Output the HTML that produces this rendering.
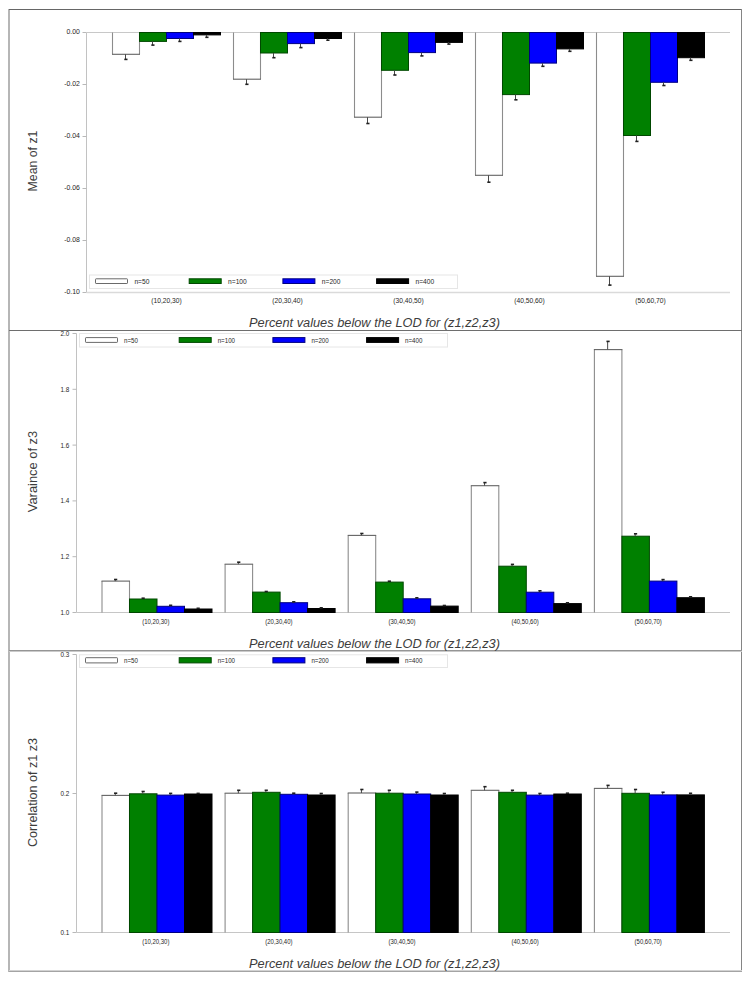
<!DOCTYPE html>
<html><head><meta charset="utf-8"><style>
html,body{margin:0;padding:0;background:#fff;width:754px;height:981px;overflow:hidden}
svg{display:block;font-family:"Liberation Sans", sans-serif}
</style></head><body>
<svg width="754" height="981" viewBox="0 0 754 981">
<rect width="754" height="981" fill="#fff"/>
<rect x="8" y="9" width="2" height="963" fill="#b6b6b6"/>
<rect x="9" y="9" width="733" height="1" fill="#666666"/>
<rect x="741" y="9" width="1" height="963" fill="#858585"/>
<rect x="9" y="970" width="733" height="1" fill="#d2d2d2"/>
<rect x="9" y="971" width="733" height="1" fill="#a4a4a4"/>
<rect x="9" y="330" width="733" height="1" fill="#6e6e6e"/>
<rect x="9" y="650" width="733" height="1" fill="#959595"/>
<rect x="9" y="651" width="733" height="1" fill="#cacaca"/>
<line x1="86.5" y1="32.5" x2="86.5" y2="292.5" stroke="#c2c2c2" stroke-width="1"/>
<line x1="82.5" y1="32.50" x2="86.5" y2="32.50" stroke="#b8b8b8" stroke-width="1"/>
<text x="79.9" y="33.68" font-size="6.9" text-anchor="end" fill="#1e1e1e" textLength="13.43" lengthAdjust="spacingAndGlyphs">0.00</text>
<line x1="82.5" y1="84.50" x2="86.5" y2="84.50" stroke="#b8b8b8" stroke-width="1"/>
<text x="79.9" y="85.68" font-size="6.9" text-anchor="end" fill="#1e1e1e" textLength="15.73" lengthAdjust="spacingAndGlyphs">-0.02</text>
<line x1="82.5" y1="136.50" x2="86.5" y2="136.50" stroke="#b8b8b8" stroke-width="1"/>
<text x="79.9" y="137.68" font-size="6.9" text-anchor="end" fill="#1e1e1e" textLength="15.73" lengthAdjust="spacingAndGlyphs">-0.04</text>
<line x1="82.5" y1="188.50" x2="86.5" y2="188.50" stroke="#b8b8b8" stroke-width="1"/>
<text x="79.9" y="189.68" font-size="6.9" text-anchor="end" fill="#1e1e1e" textLength="15.73" lengthAdjust="spacingAndGlyphs">-0.06</text>
<line x1="82.5" y1="240.50" x2="86.5" y2="240.50" stroke="#b8b8b8" stroke-width="1"/>
<text x="79.9" y="241.68" font-size="6.9" text-anchor="end" fill="#1e1e1e" textLength="15.73" lengthAdjust="spacingAndGlyphs">-0.08</text>
<line x1="82.5" y1="292.50" x2="86.5" y2="292.50" stroke="#b8b8b8" stroke-width="1"/>
<text x="79.9" y="293.68" font-size="6.9" text-anchor="end" fill="#1e1e1e" textLength="15.73" lengthAdjust="spacingAndGlyphs">-0.10</text>
<line x1="86.5" y1="32.5" x2="730" y2="32.5" stroke="#c8c8c8" stroke-width="1"/>
<line x1="86.5" y1="292.5" x2="730" y2="292.5" stroke="#dadada" stroke-width="1.6"/>
<rect x="112.50" y="33.00" width="27.00" height="21.30" fill="#fff"/>
<line x1="112.50" y1="32.50" x2="112.50" y2="54.30" stroke="#8c8c8c" stroke-width="1.1"/>
<line x1="139.50" y1="32.50" x2="139.50" y2="54.30" stroke="#8c8c8c" stroke-width="1.1"/>
<line x1="112.00" y1="54.30" x2="140.00" y2="54.30" stroke="#626262" stroke-width="1.1"/>
<line x1="125.50" y1="54.30" x2="125.50" y2="59.40" stroke="#484848" stroke-width="1"/>
<rect x="124.30" y="58.60" width="3.2" height="1.6" fill="#202020"/>
<rect x="139.50" y="32.50" width="27.00" height="8.90" fill="#008000" stroke="#004800" stroke-width="1"/>
<line x1="152.50" y1="41.40" x2="152.50" y2="45.10" stroke="#484848" stroke-width="1"/>
<rect x="151.30" y="44.30" width="3.2" height="1.6" fill="#202020"/>
<rect x="166.50" y="32.50" width="27.00" height="6.00" fill="#0000ff" stroke="#000080" stroke-width="1"/>
<line x1="179.50" y1="38.50" x2="179.50" y2="41.40" stroke="#484848" stroke-width="1"/>
<rect x="178.30" y="40.60" width="3.2" height="1.6" fill="#202020"/>
<rect x="193.50" y="32.50" width="27.00" height="2.40" fill="#000000" stroke="#000000" stroke-width="1"/>
<line x1="206.50" y1="34.90" x2="206.50" y2="37.30" stroke="#484848" stroke-width="1"/>
<rect x="205.30" y="36.50" width="3.2" height="1.6" fill="#202020"/>
<text x="166.50" y="303.3" font-size="6.9" text-anchor="middle" fill="#1e1e1e" textLength="30.5" lengthAdjust="spacingAndGlyphs">(10,20,30)</text>
<rect x="233.50" y="33.00" width="27.00" height="46.20" fill="#fff"/>
<line x1="233.50" y1="32.50" x2="233.50" y2="79.20" stroke="#8c8c8c" stroke-width="1.1"/>
<line x1="260.50" y1="32.50" x2="260.50" y2="79.20" stroke="#8c8c8c" stroke-width="1.1"/>
<line x1="233.00" y1="79.20" x2="261.00" y2="79.20" stroke="#626262" stroke-width="1.1"/>
<line x1="246.50" y1="79.20" x2="246.50" y2="84.30" stroke="#484848" stroke-width="1"/>
<rect x="245.30" y="83.50" width="3.2" height="1.6" fill="#202020"/>
<rect x="260.50" y="32.50" width="27.00" height="20.50" fill="#008000" stroke="#004800" stroke-width="1"/>
<line x1="273.50" y1="53.00" x2="273.50" y2="57.70" stroke="#484848" stroke-width="1"/>
<rect x="272.30" y="56.90" width="3.2" height="1.6" fill="#202020"/>
<rect x="287.50" y="32.50" width="27.00" height="11.10" fill="#0000ff" stroke="#000080" stroke-width="1"/>
<line x1="300.50" y1="43.60" x2="300.50" y2="47.60" stroke="#484848" stroke-width="1"/>
<rect x="299.30" y="46.80" width="3.2" height="1.6" fill="#202020"/>
<rect x="314.50" y="32.50" width="27.00" height="6.00" fill="#000000" stroke="#000000" stroke-width="1"/>
<line x1="327.50" y1="38.50" x2="327.50" y2="40.20" stroke="#484848" stroke-width="1"/>
<rect x="326.30" y="39.40" width="3.2" height="1.6" fill="#202020"/>
<text x="287.50" y="303.3" font-size="6.9" text-anchor="middle" fill="#1e1e1e" textLength="30.5" lengthAdjust="spacingAndGlyphs">(20,30,40)</text>
<rect x="354.50" y="33.00" width="27.00" height="84.20" fill="#fff"/>
<line x1="354.50" y1="32.50" x2="354.50" y2="117.20" stroke="#8c8c8c" stroke-width="1.1"/>
<line x1="381.50" y1="32.50" x2="381.50" y2="117.20" stroke="#8c8c8c" stroke-width="1.1"/>
<line x1="354.00" y1="117.20" x2="382.00" y2="117.20" stroke="#626262" stroke-width="1.1"/>
<line x1="367.50" y1="117.20" x2="367.50" y2="123.50" stroke="#484848" stroke-width="1"/>
<rect x="366.30" y="122.70" width="3.2" height="1.6" fill="#202020"/>
<rect x="381.50" y="32.50" width="27.00" height="37.80" fill="#008000" stroke="#004800" stroke-width="1"/>
<line x1="394.50" y1="70.30" x2="394.50" y2="75.00" stroke="#484848" stroke-width="1"/>
<rect x="393.30" y="74.20" width="3.2" height="1.6" fill="#202020"/>
<rect x="408.50" y="32.50" width="27.00" height="20.10" fill="#0000ff" stroke="#000080" stroke-width="1"/>
<line x1="421.50" y1="52.60" x2="421.50" y2="55.90" stroke="#484848" stroke-width="1"/>
<rect x="420.30" y="55.10" width="3.2" height="1.6" fill="#202020"/>
<rect x="435.50" y="32.50" width="27.00" height="9.90" fill="#000000" stroke="#000000" stroke-width="1"/>
<line x1="448.50" y1="42.40" x2="448.50" y2="44.10" stroke="#484848" stroke-width="1"/>
<rect x="447.30" y="43.30" width="3.2" height="1.6" fill="#202020"/>
<text x="408.50" y="303.3" font-size="6.9" text-anchor="middle" fill="#1e1e1e" textLength="30.5" lengthAdjust="spacingAndGlyphs">(30,40,50)</text>
<rect x="475.50" y="33.00" width="27.00" height="142.30" fill="#fff"/>
<line x1="475.50" y1="32.50" x2="475.50" y2="175.30" stroke="#8c8c8c" stroke-width="1.1"/>
<line x1="502.50" y1="32.50" x2="502.50" y2="175.30" stroke="#8c8c8c" stroke-width="1.1"/>
<line x1="475.00" y1="175.30" x2="503.00" y2="175.30" stroke="#626262" stroke-width="1.1"/>
<line x1="488.50" y1="175.30" x2="488.50" y2="182.20" stroke="#484848" stroke-width="1"/>
<rect x="487.30" y="181.40" width="3.2" height="1.6" fill="#202020"/>
<rect x="502.50" y="32.50" width="27.00" height="62.10" fill="#008000" stroke="#004800" stroke-width="1"/>
<line x1="515.50" y1="94.60" x2="515.50" y2="99.80" stroke="#484848" stroke-width="1"/>
<rect x="514.30" y="99.00" width="3.2" height="1.6" fill="#202020"/>
<rect x="529.50" y="32.50" width="27.00" height="30.60" fill="#0000ff" stroke="#000080" stroke-width="1"/>
<line x1="542.50" y1="63.10" x2="542.50" y2="66.30" stroke="#484848" stroke-width="1"/>
<rect x="541.30" y="65.50" width="3.2" height="1.6" fill="#202020"/>
<rect x="556.50" y="32.50" width="27.00" height="16.40" fill="#000000" stroke="#000000" stroke-width="1"/>
<line x1="569.50" y1="48.90" x2="569.50" y2="51.30" stroke="#484848" stroke-width="1"/>
<rect x="568.30" y="50.50" width="3.2" height="1.6" fill="#202020"/>
<text x="529.50" y="303.3" font-size="6.9" text-anchor="middle" fill="#1e1e1e" textLength="30.5" lengthAdjust="spacingAndGlyphs">(40,50,60)</text>
<rect x="596.50" y="33.00" width="27.00" height="243.30" fill="#fff"/>
<line x1="596.50" y1="32.50" x2="596.50" y2="276.30" stroke="#8c8c8c" stroke-width="1.1"/>
<line x1="623.50" y1="32.50" x2="623.50" y2="276.30" stroke="#8c8c8c" stroke-width="1.1"/>
<line x1="596.00" y1="276.30" x2="624.00" y2="276.30" stroke="#626262" stroke-width="1.1"/>
<line x1="609.50" y1="276.30" x2="609.50" y2="285.10" stroke="#484848" stroke-width="1"/>
<rect x="608.30" y="284.30" width="3.2" height="1.6" fill="#202020"/>
<rect x="623.50" y="32.50" width="27.00" height="103.00" fill="#008000" stroke="#004800" stroke-width="1"/>
<line x1="636.50" y1="135.50" x2="636.50" y2="141.40" stroke="#484848" stroke-width="1"/>
<rect x="635.30" y="140.60" width="3.2" height="1.6" fill="#202020"/>
<rect x="650.50" y="32.50" width="27.00" height="49.80" fill="#0000ff" stroke="#000080" stroke-width="1"/>
<line x1="663.50" y1="82.30" x2="663.50" y2="85.50" stroke="#484848" stroke-width="1"/>
<rect x="662.30" y="84.70" width="3.2" height="1.6" fill="#202020"/>
<rect x="677.50" y="32.50" width="27.00" height="25.20" fill="#000000" stroke="#000000" stroke-width="1"/>
<line x1="690.50" y1="57.70" x2="690.50" y2="60.30" stroke="#484848" stroke-width="1"/>
<rect x="689.30" y="59.50" width="3.2" height="1.6" fill="#202020"/>
<text x="650.50" y="303.3" font-size="6.9" text-anchor="middle" fill="#1e1e1e" textLength="30.5" lengthAdjust="spacingAndGlyphs">(50,60,70)</text>
<rect x="89.5" y="275" width="368" height="13.50" fill="none" stroke="#e6e6e6" stroke-width="1"/>
<rect x="95.50" y="278.80" width="32" height="4.7" fill="#ffffff" stroke="#6a6a6a" stroke-width="1" rx="0.6"/>
<text x="134.40" y="283.70" font-size="7" text-anchor="start" fill="#1e1e1e" textLength="14.98" lengthAdjust="spacingAndGlyphs">n=50</text>
<rect x="189.20" y="278.80" width="32" height="4.7" fill="#008000" stroke="#004800" stroke-width="1" rx="0"/>
<text x="228.10" y="283.70" font-size="7" text-anchor="start" fill="#1e1e1e" textLength="18.68" lengthAdjust="spacingAndGlyphs">n=100</text>
<rect x="282.90" y="278.80" width="32" height="4.7" fill="#0000ff" stroke="#000080" stroke-width="1" rx="0"/>
<text x="321.80" y="283.70" font-size="7" text-anchor="start" fill="#1e1e1e" textLength="18.68" lengthAdjust="spacingAndGlyphs">n=200</text>
<rect x="376.60" y="278.80" width="32" height="4.7" fill="#000000" stroke="#000000" stroke-width="1" rx="0"/>
<text x="415.50" y="283.70" font-size="7" text-anchor="start" fill="#1e1e1e" textLength="18.68" lengthAdjust="spacingAndGlyphs">n=400</text>
<text x="0" y="0" font-size="12.3" fill="#3c3c3c" text-anchor="middle" transform="translate(37,161) rotate(-90)">Mean of z1</text>
<text x="249" y="327.2" font-size="12.3" fill="#3c3c3c" font-style="italic" textLength="251" lengthAdjust="spacingAndGlyphs">Percent values below the LOD for (z1,z2,z3)</text>
<line x1="76.5" y1="333.5" x2="76.5" y2="612.5" stroke="#c2c2c2" stroke-width="1"/>
<line x1="72.5" y1="612.50" x2="76.5" y2="612.50" stroke="#b8b8b8" stroke-width="1"/>
<text x="69.3" y="615.09" font-size="7.2" text-anchor="end" fill="#1e1e1e" textLength="8.81" lengthAdjust="spacingAndGlyphs">1.0</text>
<line x1="72.5" y1="556.70" x2="76.5" y2="556.70" stroke="#b8b8b8" stroke-width="1"/>
<text x="69.3" y="559.29" font-size="7.2" text-anchor="end" fill="#1e1e1e" textLength="8.81" lengthAdjust="spacingAndGlyphs">1.2</text>
<line x1="72.5" y1="500.90" x2="76.5" y2="500.90" stroke="#b8b8b8" stroke-width="1"/>
<text x="69.3" y="503.49" font-size="7.2" text-anchor="end" fill="#1e1e1e" textLength="8.81" lengthAdjust="spacingAndGlyphs">1.4</text>
<line x1="72.5" y1="445.10" x2="76.5" y2="445.10" stroke="#b8b8b8" stroke-width="1"/>
<text x="69.3" y="447.69" font-size="7.2" text-anchor="end" fill="#1e1e1e" textLength="8.81" lengthAdjust="spacingAndGlyphs">1.6</text>
<line x1="72.5" y1="389.30" x2="76.5" y2="389.30" stroke="#b8b8b8" stroke-width="1"/>
<text x="69.3" y="391.89" font-size="7.2" text-anchor="end" fill="#1e1e1e" textLength="8.81" lengthAdjust="spacingAndGlyphs">1.8</text>
<line x1="72.5" y1="333.50" x2="76.5" y2="333.50" stroke="#b8b8b8" stroke-width="1"/>
<text x="69.3" y="336.09" font-size="7.2" text-anchor="end" fill="#1e1e1e" textLength="8.81" lengthAdjust="spacingAndGlyphs">2.0</text>
<line x1="76.5" y1="612.5" x2="730" y2="612.5" stroke="#c6c6c6" stroke-width="1"/>
<rect x="102.00" y="581.10" width="27.50" height="30.90" fill="#fff"/>
<line x1="102.00" y1="612.50" x2="102.00" y2="581.10" stroke="#8c8c8c" stroke-width="1.1"/>
<line x1="129.50" y1="612.50" x2="129.50" y2="581.10" stroke="#8c8c8c" stroke-width="1.1"/>
<line x1="101.50" y1="581.10" x2="130.00" y2="581.10" stroke="#626262" stroke-width="1.1"/>
<line x1="115.25" y1="581.10" x2="115.25" y2="579.50" stroke="#484848" stroke-width="1"/>
<rect x="114.05" y="578.70" width="3.2" height="1.6" fill="#202020"/>
<rect x="129.50" y="599.00" width="27.50" height="13.50" fill="#008000" stroke="#004800" stroke-width="1"/>
<line x1="142.75" y1="599.00" x2="142.75" y2="598.20" stroke="#484848" stroke-width="1"/>
<rect x="141.55" y="597.40" width="3.2" height="1.6" fill="#202020"/>
<rect x="157.00" y="606.30" width="27.50" height="6.20" fill="#0000ff" stroke="#000080" stroke-width="1"/>
<line x1="170.25" y1="606.30" x2="170.25" y2="605.30" stroke="#484848" stroke-width="1"/>
<rect x="169.05" y="604.50" width="3.2" height="1.6" fill="#202020"/>
<rect x="184.50" y="609.00" width="27.50" height="3.50" fill="#000000" stroke="#000000" stroke-width="1"/>
<line x1="197.75" y1="609.00" x2="197.75" y2="608.30" stroke="#484848" stroke-width="1"/>
<rect x="196.55" y="607.50" width="3.2" height="1.6" fill="#202020"/>
<text x="155.80" y="624.4" font-size="7.0" text-anchor="middle" fill="#1e1e1e" textLength="27.2" lengthAdjust="spacingAndGlyphs">(10,20,30)</text>
<rect x="225.10" y="564.20" width="27.50" height="47.80" fill="#fff"/>
<line x1="225.10" y1="612.50" x2="225.10" y2="564.20" stroke="#8c8c8c" stroke-width="1.1"/>
<line x1="252.60" y1="612.50" x2="252.60" y2="564.20" stroke="#8c8c8c" stroke-width="1.1"/>
<line x1="224.60" y1="564.20" x2="253.10" y2="564.20" stroke="#626262" stroke-width="1.1"/>
<line x1="238.35" y1="564.20" x2="238.35" y2="562.20" stroke="#484848" stroke-width="1"/>
<rect x="237.15" y="561.40" width="3.2" height="1.6" fill="#202020"/>
<rect x="252.60" y="592.10" width="27.50" height="20.40" fill="#008000" stroke="#004800" stroke-width="1"/>
<line x1="265.85" y1="592.10" x2="265.85" y2="591.50" stroke="#484848" stroke-width="1"/>
<rect x="264.65" y="590.70" width="3.2" height="1.6" fill="#202020"/>
<rect x="280.10" y="602.70" width="27.50" height="9.80" fill="#0000ff" stroke="#000080" stroke-width="1"/>
<line x1="293.35" y1="602.70" x2="293.35" y2="601.80" stroke="#484848" stroke-width="1"/>
<rect x="292.15" y="601.00" width="3.2" height="1.6" fill="#202020"/>
<rect x="307.60" y="608.50" width="27.50" height="4.00" fill="#000000" stroke="#000000" stroke-width="1"/>
<line x1="320.85" y1="608.50" x2="320.85" y2="607.80" stroke="#484848" stroke-width="1"/>
<rect x="319.65" y="607.00" width="3.2" height="1.6" fill="#202020"/>
<text x="278.90" y="624.4" font-size="7.0" text-anchor="middle" fill="#1e1e1e" textLength="27.2" lengthAdjust="spacingAndGlyphs">(20,30,40)</text>
<rect x="348.20" y="535.40" width="27.50" height="76.60" fill="#fff"/>
<line x1="348.20" y1="612.50" x2="348.20" y2="535.40" stroke="#8c8c8c" stroke-width="1.1"/>
<line x1="375.70" y1="612.50" x2="375.70" y2="535.40" stroke="#8c8c8c" stroke-width="1.1"/>
<line x1="347.70" y1="535.40" x2="376.20" y2="535.40" stroke="#626262" stroke-width="1.1"/>
<line x1="361.45" y1="535.40" x2="361.45" y2="533.50" stroke="#484848" stroke-width="1"/>
<rect x="360.25" y="532.70" width="3.2" height="1.6" fill="#202020"/>
<rect x="375.70" y="582.10" width="27.50" height="30.40" fill="#008000" stroke="#004800" stroke-width="1"/>
<line x1="388.95" y1="582.10" x2="388.95" y2="581.20" stroke="#484848" stroke-width="1"/>
<rect x="387.75" y="580.40" width="3.2" height="1.6" fill="#202020"/>
<rect x="403.20" y="598.80" width="27.50" height="13.70" fill="#0000ff" stroke="#000080" stroke-width="1"/>
<line x1="416.45" y1="598.80" x2="416.45" y2="597.80" stroke="#484848" stroke-width="1"/>
<rect x="415.25" y="597.00" width="3.2" height="1.6" fill="#202020"/>
<rect x="430.70" y="606.10" width="27.50" height="6.40" fill="#000000" stroke="#000000" stroke-width="1"/>
<line x1="443.95" y1="606.10" x2="443.95" y2="605.50" stroke="#484848" stroke-width="1"/>
<rect x="442.75" y="604.70" width="3.2" height="1.6" fill="#202020"/>
<text x="402.00" y="624.4" font-size="7.0" text-anchor="middle" fill="#1e1e1e" textLength="27.2" lengthAdjust="spacingAndGlyphs">(30,40,50)</text>
<rect x="471.30" y="485.70" width="27.50" height="126.30" fill="#fff"/>
<line x1="471.30" y1="612.50" x2="471.30" y2="485.70" stroke="#8c8c8c" stroke-width="1.1"/>
<line x1="498.80" y1="612.50" x2="498.80" y2="485.70" stroke="#8c8c8c" stroke-width="1.1"/>
<line x1="470.80" y1="485.70" x2="499.30" y2="485.70" stroke="#626262" stroke-width="1.1"/>
<line x1="484.55" y1="485.70" x2="484.55" y2="482.60" stroke="#484848" stroke-width="1"/>
<rect x="483.35" y="481.80" width="3.2" height="1.6" fill="#202020"/>
<rect x="498.80" y="566.20" width="27.50" height="46.30" fill="#008000" stroke="#004800" stroke-width="1"/>
<line x1="512.05" y1="566.20" x2="512.05" y2="564.40" stroke="#484848" stroke-width="1"/>
<rect x="510.85" y="563.60" width="3.2" height="1.6" fill="#202020"/>
<rect x="526.30" y="592.20" width="27.50" height="20.30" fill="#0000ff" stroke="#000080" stroke-width="1"/>
<line x1="539.55" y1="592.20" x2="539.55" y2="590.80" stroke="#484848" stroke-width="1"/>
<rect x="538.35" y="590.00" width="3.2" height="1.6" fill="#202020"/>
<rect x="553.80" y="603.60" width="27.50" height="8.90" fill="#000000" stroke="#000000" stroke-width="1"/>
<line x1="567.05" y1="603.60" x2="567.05" y2="602.80" stroke="#484848" stroke-width="1"/>
<rect x="565.85" y="602.00" width="3.2" height="1.6" fill="#202020"/>
<text x="525.10" y="624.4" font-size="7.0" text-anchor="middle" fill="#1e1e1e" textLength="27.2" lengthAdjust="spacingAndGlyphs">(40,50,60)</text>
<rect x="594.40" y="349.60" width="27.50" height="262.40" fill="#fff"/>
<line x1="594.40" y1="612.50" x2="594.40" y2="349.60" stroke="#8c8c8c" stroke-width="1.1"/>
<line x1="621.90" y1="612.50" x2="621.90" y2="349.60" stroke="#8c8c8c" stroke-width="1.1"/>
<line x1="593.90" y1="349.60" x2="622.40" y2="349.60" stroke="#626262" stroke-width="1.1"/>
<line x1="607.65" y1="349.60" x2="607.65" y2="341.40" stroke="#484848" stroke-width="1"/>
<rect x="606.45" y="340.60" width="3.2" height="1.6" fill="#202020"/>
<rect x="621.90" y="536.20" width="27.50" height="76.30" fill="#008000" stroke="#004800" stroke-width="1"/>
<line x1="635.15" y1="536.20" x2="635.15" y2="533.80" stroke="#484848" stroke-width="1"/>
<rect x="633.95" y="533.00" width="3.2" height="1.6" fill="#202020"/>
<rect x="649.40" y="581.10" width="27.50" height="31.40" fill="#0000ff" stroke="#000080" stroke-width="1"/>
<line x1="662.65" y1="581.10" x2="662.65" y2="579.60" stroke="#484848" stroke-width="1"/>
<rect x="661.45" y="578.80" width="3.2" height="1.6" fill="#202020"/>
<rect x="676.90" y="597.70" width="27.50" height="14.80" fill="#000000" stroke="#000000" stroke-width="1"/>
<line x1="690.15" y1="597.70" x2="690.15" y2="596.80" stroke="#484848" stroke-width="1"/>
<rect x="688.95" y="596.00" width="3.2" height="1.6" fill="#202020"/>
<text x="648.20" y="624.4" font-size="7.0" text-anchor="middle" fill="#1e1e1e" textLength="27.2" lengthAdjust="spacingAndGlyphs">(50,60,70)</text>
<rect x="79.5" y="333.5" width="368" height="13.50" fill="none" stroke="#e6e6e6" stroke-width="1"/>
<rect x="85.50" y="337.60" width="32" height="4.8" fill="#ffffff" stroke="#6a6a6a" stroke-width="1" rx="0.6"/>
<text x="124.00" y="342.70" font-size="7" text-anchor="start" fill="#1e1e1e" textLength="13.87" lengthAdjust="spacingAndGlyphs">n=50</text>
<rect x="179.20" y="337.60" width="32" height="4.8" fill="#008000" stroke="#004800" stroke-width="1" rx="0"/>
<text x="217.70" y="342.70" font-size="7" text-anchor="start" fill="#1e1e1e" textLength="17.30" lengthAdjust="spacingAndGlyphs">n=100</text>
<rect x="272.90" y="337.60" width="32" height="4.8" fill="#0000ff" stroke="#000080" stroke-width="1" rx="0"/>
<text x="311.40" y="342.70" font-size="7" text-anchor="start" fill="#1e1e1e" textLength="17.30" lengthAdjust="spacingAndGlyphs">n=200</text>
<rect x="366.60" y="337.60" width="32" height="4.8" fill="#000000" stroke="#000000" stroke-width="1" rx="0"/>
<text x="405.10" y="342.70" font-size="7" text-anchor="start" fill="#1e1e1e" textLength="17.30" lengthAdjust="spacingAndGlyphs">n=400</text>
<text x="0" y="0" font-size="12.9" fill="#3c3c3c" text-anchor="middle" transform="translate(37,471.5) rotate(-90)">Varaince of z3</text>
<text x="249" y="647.6" font-size="12.3" fill="#3c3c3c" font-style="italic" textLength="251" lengthAdjust="spacingAndGlyphs">Percent values below the LOD for (z1,z2,z3)</text>
<line x1="76.5" y1="654.5" x2="76.5" y2="932.5" stroke="#c2c2c2" stroke-width="1"/>
<line x1="72.5" y1="932.50" x2="76.5" y2="932.50" stroke="#b8b8b8" stroke-width="1"/>
<text x="69.3" y="935.09" font-size="7.2" text-anchor="end" fill="#1e1e1e" textLength="8.81" lengthAdjust="spacingAndGlyphs">0.1</text>
<line x1="72.5" y1="793.50" x2="76.5" y2="793.50" stroke="#b8b8b8" stroke-width="1"/>
<text x="69.3" y="796.09" font-size="7.2" text-anchor="end" fill="#1e1e1e" textLength="8.81" lengthAdjust="spacingAndGlyphs">0.2</text>
<line x1="72.5" y1="654.50" x2="76.5" y2="654.50" stroke="#b8b8b8" stroke-width="1"/>
<text x="69.3" y="657.09" font-size="7.2" text-anchor="end" fill="#1e1e1e" textLength="8.81" lengthAdjust="spacingAndGlyphs">0.3</text>
<line x1="76.5" y1="932.5" x2="730" y2="932.5" stroke="#c6c6c6" stroke-width="1"/>
<rect x="102.00" y="795.40" width="27.50" height="136.60" fill="#fff"/>
<line x1="102.00" y1="932.50" x2="102.00" y2="795.40" stroke="#8c8c8c" stroke-width="1.1"/>
<line x1="129.50" y1="932.50" x2="129.50" y2="795.40" stroke="#8c8c8c" stroke-width="1.1"/>
<line x1="101.50" y1="795.40" x2="130.00" y2="795.40" stroke="#626262" stroke-width="1.1"/>
<line x1="115.25" y1="795.40" x2="115.25" y2="793.20" stroke="#484848" stroke-width="1"/>
<rect x="114.05" y="792.40" width="3.2" height="1.6" fill="#202020"/>
<rect x="129.50" y="793.80" width="27.50" height="138.70" fill="#008000" stroke="#004800" stroke-width="1"/>
<line x1="142.75" y1="793.80" x2="142.75" y2="791.50" stroke="#484848" stroke-width="1"/>
<rect x="141.55" y="790.70" width="3.2" height="1.6" fill="#202020"/>
<rect x="157.00" y="795.10" width="27.50" height="137.40" fill="#0000ff" stroke="#000080" stroke-width="1"/>
<line x1="170.25" y1="795.10" x2="170.25" y2="793.40" stroke="#484848" stroke-width="1"/>
<rect x="169.05" y="792.60" width="3.2" height="1.6" fill="#202020"/>
<rect x="184.50" y="794.00" width="27.50" height="138.50" fill="#000000" stroke="#000000" stroke-width="1"/>
<line x1="197.75" y1="794.00" x2="197.75" y2="793.40" stroke="#484848" stroke-width="1"/>
<rect x="196.55" y="792.60" width="3.2" height="1.6" fill="#202020"/>
<text x="155.80" y="944.4" font-size="7.0" text-anchor="middle" fill="#1e1e1e" textLength="27.2" lengthAdjust="spacingAndGlyphs">(10,20,30)</text>
<rect x="225.10" y="793.20" width="27.50" height="138.80" fill="#fff"/>
<line x1="225.10" y1="932.50" x2="225.10" y2="793.20" stroke="#8c8c8c" stroke-width="1.1"/>
<line x1="252.60" y1="932.50" x2="252.60" y2="793.20" stroke="#8c8c8c" stroke-width="1.1"/>
<line x1="224.60" y1="793.20" x2="253.10" y2="793.20" stroke="#626262" stroke-width="1.1"/>
<line x1="238.35" y1="793.20" x2="238.35" y2="790.30" stroke="#484848" stroke-width="1"/>
<rect x="237.15" y="789.50" width="3.2" height="1.6" fill="#202020"/>
<rect x="252.60" y="792.30" width="27.50" height="140.20" fill="#008000" stroke="#004800" stroke-width="1"/>
<line x1="265.85" y1="792.30" x2="265.85" y2="790.30" stroke="#484848" stroke-width="1"/>
<rect x="264.65" y="789.50" width="3.2" height="1.6" fill="#202020"/>
<rect x="280.10" y="794.30" width="27.50" height="138.20" fill="#0000ff" stroke="#000080" stroke-width="1"/>
<line x1="293.35" y1="794.30" x2="293.35" y2="793.20" stroke="#484848" stroke-width="1"/>
<rect x="292.15" y="792.40" width="3.2" height="1.6" fill="#202020"/>
<rect x="307.60" y="795.00" width="27.50" height="137.50" fill="#000000" stroke="#000000" stroke-width="1"/>
<line x1="320.85" y1="795.00" x2="320.85" y2="793.50" stroke="#484848" stroke-width="1"/>
<rect x="319.65" y="792.70" width="3.2" height="1.6" fill="#202020"/>
<text x="278.90" y="944.4" font-size="7.0" text-anchor="middle" fill="#1e1e1e" textLength="27.2" lengthAdjust="spacingAndGlyphs">(20,30,40)</text>
<rect x="348.20" y="793.00" width="27.50" height="139.00" fill="#fff"/>
<line x1="348.20" y1="932.50" x2="348.20" y2="793.00" stroke="#8c8c8c" stroke-width="1.1"/>
<line x1="375.70" y1="932.50" x2="375.70" y2="793.00" stroke="#8c8c8c" stroke-width="1.1"/>
<line x1="347.70" y1="793.00" x2="376.20" y2="793.00" stroke="#626262" stroke-width="1.1"/>
<line x1="361.45" y1="793.00" x2="361.45" y2="789.50" stroke="#484848" stroke-width="1"/>
<rect x="360.25" y="788.70" width="3.2" height="1.6" fill="#202020"/>
<rect x="375.70" y="793.20" width="27.50" height="139.30" fill="#008000" stroke="#004800" stroke-width="1"/>
<line x1="388.95" y1="793.20" x2="388.95" y2="790.30" stroke="#484848" stroke-width="1"/>
<rect x="387.75" y="789.50" width="3.2" height="1.6" fill="#202020"/>
<rect x="403.20" y="794.00" width="27.50" height="138.50" fill="#0000ff" stroke="#000080" stroke-width="1"/>
<line x1="416.45" y1="794.00" x2="416.45" y2="792.10" stroke="#484848" stroke-width="1"/>
<rect x="415.25" y="791.30" width="3.2" height="1.6" fill="#202020"/>
<rect x="430.70" y="795.00" width="27.50" height="137.50" fill="#000000" stroke="#000000" stroke-width="1"/>
<line x1="443.95" y1="795.00" x2="443.95" y2="793.50" stroke="#484848" stroke-width="1"/>
<rect x="442.75" y="792.70" width="3.2" height="1.6" fill="#202020"/>
<text x="402.00" y="944.4" font-size="7.0" text-anchor="middle" fill="#1e1e1e" textLength="27.2" lengthAdjust="spacingAndGlyphs">(30,40,50)</text>
<rect x="471.30" y="790.30" width="27.50" height="141.70" fill="#fff"/>
<line x1="471.30" y1="932.50" x2="471.30" y2="790.30" stroke="#8c8c8c" stroke-width="1.1"/>
<line x1="498.80" y1="932.50" x2="498.80" y2="790.30" stroke="#8c8c8c" stroke-width="1.1"/>
<line x1="470.80" y1="790.30" x2="499.30" y2="790.30" stroke="#626262" stroke-width="1.1"/>
<line x1="484.55" y1="790.30" x2="484.55" y2="786.70" stroke="#484848" stroke-width="1"/>
<rect x="483.35" y="785.90" width="3.2" height="1.6" fill="#202020"/>
<rect x="498.80" y="792.30" width="27.50" height="140.20" fill="#008000" stroke="#004800" stroke-width="1"/>
<line x1="512.05" y1="792.30" x2="512.05" y2="790.30" stroke="#484848" stroke-width="1"/>
<rect x="510.85" y="789.50" width="3.2" height="1.6" fill="#202020"/>
<rect x="526.30" y="795.10" width="27.50" height="137.40" fill="#0000ff" stroke="#000080" stroke-width="1"/>
<line x1="539.55" y1="795.10" x2="539.55" y2="793.50" stroke="#484848" stroke-width="1"/>
<rect x="538.35" y="792.70" width="3.2" height="1.6" fill="#202020"/>
<rect x="553.80" y="794.00" width="27.50" height="138.50" fill="#000000" stroke="#000000" stroke-width="1"/>
<line x1="567.05" y1="794.00" x2="567.05" y2="793.20" stroke="#484848" stroke-width="1"/>
<rect x="565.85" y="792.40" width="3.2" height="1.6" fill="#202020"/>
<text x="525.10" y="944.4" font-size="7.0" text-anchor="middle" fill="#1e1e1e" textLength="27.2" lengthAdjust="spacingAndGlyphs">(40,50,60)</text>
<rect x="594.40" y="788.40" width="27.50" height="143.60" fill="#fff"/>
<line x1="594.40" y1="932.50" x2="594.40" y2="788.40" stroke="#8c8c8c" stroke-width="1.1"/>
<line x1="621.90" y1="932.50" x2="621.90" y2="788.40" stroke="#8c8c8c" stroke-width="1.1"/>
<line x1="593.90" y1="788.40" x2="622.40" y2="788.40" stroke="#626262" stroke-width="1.1"/>
<line x1="607.65" y1="788.40" x2="607.65" y2="785.40" stroke="#484848" stroke-width="1"/>
<rect x="606.45" y="784.60" width="3.2" height="1.6" fill="#202020"/>
<rect x="621.90" y="793.30" width="27.50" height="139.20" fill="#008000" stroke="#004800" stroke-width="1"/>
<line x1="635.15" y1="793.30" x2="635.15" y2="789.50" stroke="#484848" stroke-width="1"/>
<rect x="633.95" y="788.70" width="3.2" height="1.6" fill="#202020"/>
<rect x="649.40" y="794.90" width="27.50" height="137.60" fill="#0000ff" stroke="#000080" stroke-width="1"/>
<line x1="662.65" y1="794.90" x2="662.65" y2="792.30" stroke="#484848" stroke-width="1"/>
<rect x="661.45" y="791.50" width="3.2" height="1.6" fill="#202020"/>
<rect x="676.90" y="794.90" width="27.50" height="137.60" fill="#000000" stroke="#000000" stroke-width="1"/>
<line x1="690.15" y1="794.90" x2="690.15" y2="793.30" stroke="#484848" stroke-width="1"/>
<rect x="688.95" y="792.50" width="3.2" height="1.6" fill="#202020"/>
<text x="648.20" y="944.4" font-size="7.0" text-anchor="middle" fill="#1e1e1e" textLength="27.2" lengthAdjust="spacingAndGlyphs">(50,60,70)</text>
<rect x="79.5" y="654.8" width="368" height="12.70" fill="none" stroke="#e6e6e6" stroke-width="1"/>
<rect x="85.50" y="657.70" width="32" height="5.2" fill="#ffffff" stroke="#6a6a6a" stroke-width="1" rx="0.6"/>
<text x="124.00" y="663.40" font-size="7" text-anchor="start" fill="#1e1e1e" textLength="13.87" lengthAdjust="spacingAndGlyphs">n=50</text>
<rect x="179.20" y="657.70" width="32" height="5.2" fill="#008000" stroke="#004800" stroke-width="1" rx="0"/>
<text x="217.70" y="663.40" font-size="7" text-anchor="start" fill="#1e1e1e" textLength="17.30" lengthAdjust="spacingAndGlyphs">n=100</text>
<rect x="272.90" y="657.70" width="32" height="5.2" fill="#0000ff" stroke="#000080" stroke-width="1" rx="0"/>
<text x="311.40" y="663.40" font-size="7" text-anchor="start" fill="#1e1e1e" textLength="17.30" lengthAdjust="spacingAndGlyphs">n=200</text>
<rect x="366.60" y="657.70" width="32" height="5.2" fill="#000000" stroke="#000000" stroke-width="1" rx="0"/>
<text x="405.10" y="663.40" font-size="7" text-anchor="start" fill="#1e1e1e" textLength="17.30" lengthAdjust="spacingAndGlyphs">n=400</text>
<text x="0" y="0" font-size="12.6" fill="#3c3c3c" text-anchor="middle" transform="translate(37,792.5) rotate(-90)">Correlation of z1 z3</text>
<text x="249" y="967.6" font-size="12.3" fill="#3c3c3c" font-style="italic" textLength="251" lengthAdjust="spacingAndGlyphs">Percent values below the LOD for (z1,z2,z3)</text>
</svg>
</body></html>
